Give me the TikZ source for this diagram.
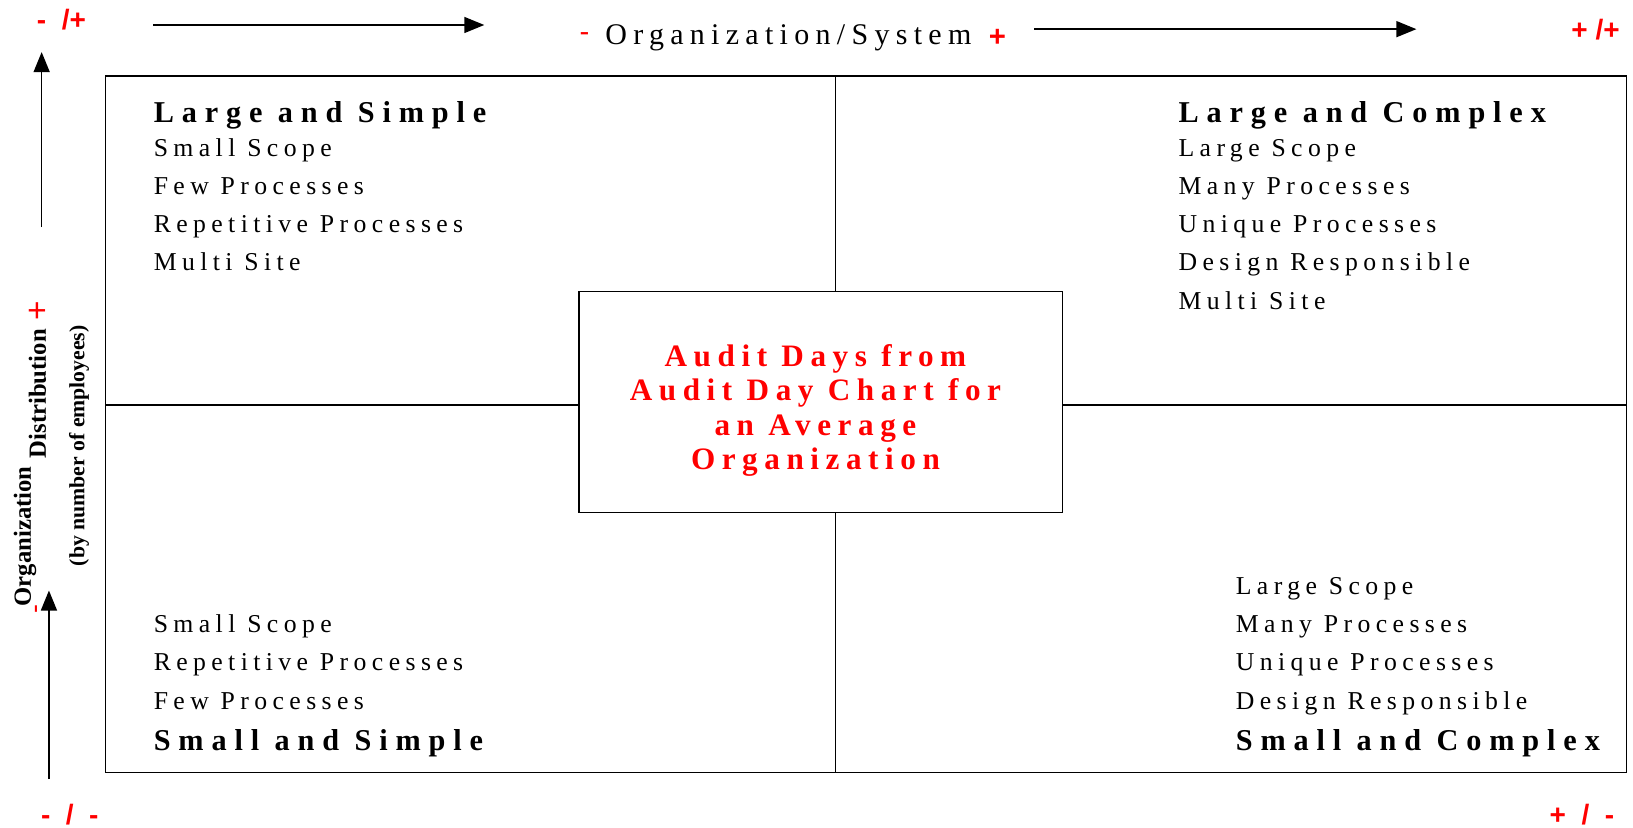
\documentclass[tikz,border=0pt]{standalone}
\usepackage{fontspec}
\setmainfont{Liberation Serif}
\newfontfamily\spacedfont[LetterSpace=21]{Liberation Serif}
\newfontfamily\headfont[LetterSpace=26]{Liberation Serif}
\newfontfamily\signfont{Liberation Sans}
\usetikzlibrary{positioning,arrows.meta}
\definecolor{signred}{RGB}{255,0,0}
\tikzset{every picture/.style={line width=1pt}}

\begin{document}
\begin{tikzpicture}[x=0.78125pt,y=0.78125pt,yscale=-1,xscale=1,
	item/.style={anchor=base west, inner sep=0pt, font=\spacedfont\fontsize{19.3}{23}\selectfont},
	heading/.style={anchor=base west, inner sep=0pt, font=\headfont\bfseries\fontsize{22.7}{27}\selectfont},
	sign/.style={text=signred, inner sep=0pt, font=\signfont\bfseries\fontsize{21}{24}\selectfont},
	axisarrow/.style={line width=1.1pt, -{Triangle[length=15pt,width=12pt]}},
	sidelabel/.style={rotate=90, inner sep=0pt, font=\bfseries\fontsize{18.5}{22}\selectfont}]
	\useasboundingbox (0,0) rectangle (1568,795);

	%quadrant frame
	\draw (101,73) rectangle (1562,742);
	\draw (802,73) -- (802,742);
	\draw (101,389) -- (1562,389);

	%centre box
	\node [draw, fill=white, minimum width=362.5pt, minimum height=165.6pt] (avgBox) at (788,386) {};
	\node [text=signred, align=center, inner sep=0pt,
		font=\spacedfont\bfseries\fontsize{23.4}{25.8}\selectfont] (avgText) at (783,394)
		{Audit Days from\\Audit Day Chart for\\an Average\\Organization};

	%large and simple
	\node [heading] (lsHead) at (147,118) {Large and Simple};
	\node [item] (lsScope) at (147,150) {Small Scope};
	\node [item] (lsFew) at (147,187) {Few Processes};
	\node [item] (lsRep) at (147,223) {Repetitive Processes};
	\node [item] (lsSite) at (147,260) {Multi Site};

	%large and complex
	\node [heading] (lcHead) at (1131,118) {Large and Complex};
	\node [item] (lcScope) at (1131,150) {Large Scope};
	\node [item] (lcMany) at (1131,187) {Many Processes};
	\node [item] (lcUnique) at (1131,223) {Unique Processes};
	\node [item] (lcDesign) at (1131,260) {Design Responsible};
	\node [item] (lcSite) at (1131,297) {Multi Site};

	%small and simple
	\node [item] (ssScope) at (147,607) {Small Scope};
	\node [item] (ssRep) at (147,644) {Repetitive Processes};
	\node [item] (ssFew) at (147,681) {Few Processes};
	\node [heading] (ssHead) at (147,721) {Small and Simple};

	%small and complex
	\node [item] (scScope) at (1186,571) {Large Scope};
	\node [item] (scMany) at (1186,607) {Many Processes};
	\node [item] (scUnique) at (1186,644) {Unique Processes};
	\node [item] (scDesign) at (1186,681) {Design Responsible};
	\node [heading] (scHead) at (1186,721) {Small and Complex};

	%horizontal axis
	\node [inner sep=0pt, font=\spacedfont\fontsize{22.5}{26}\selectfont] (orgSys) at (757,36) {Organization/System};
	\node [sign, font=\signfont\fontsize{22}{26}\selectfont, left=11pt of orgSys] (sysMinus) {-};
	\node [sign, font=\signfont\bfseries\fontsize{22}{26}\selectfont, right=12pt of orgSys] (sysPlus) {+};
	\coordinate (topLeftStart) at (147,24);
	\coordinate (topLeftEnd) at (465,24);
	\coordinate (topRightStart) at (993,28);
	\coordinate (topRightEnd) at (1360,28);
	\draw [axisarrow] (topLeftStart) -- (topLeftEnd);
	\draw [axisarrow] (topRightStart) -- (topRightEnd);

	%vertical axis
	\node [sidelabel] (orgWord) at (24,515) {Organization};
	\node [sidelabel] (distWord) at (36,378) {Distribution};
	\node [sidelabel, font=\bfseries\fontsize{16.3}{20}\selectfont] (empWord) at (76,428) {(by number of employees)};
	\node [sign, rotate=90, font=\signfont\fontsize{25}{28}\selectfont] (distPlus) at (37,298) {+};
	\node [sign, rotate=90, font=\signfont\fontsize{20}{24}\selectfont] (orgMinus) at (38,585) {-};
	\coordinate (upperStart) at (40,218);
	\coordinate (upperEnd) at (40,50);
	\coordinate (lowerStart) at (47,748);
	\coordinate (lowerEnd) at (47,567);
	\draw [axisarrow] (upperStart) -- (upperEnd);
	\draw [axisarrow] (lowerStart) -- (lowerEnd);

	%corner signs
	\node [sign] (cornerTL) at (59,19) {-~~/+};
	\node [sign] (cornerTR) at (1532,28) {+~/+};
	\node [sign] (cornerBL) at (67,782) {-~~/~~-};
	\node [sign] (cornerBR) at (1519,782) {+~~/~~-};
\end{tikzpicture}
\end{document}
